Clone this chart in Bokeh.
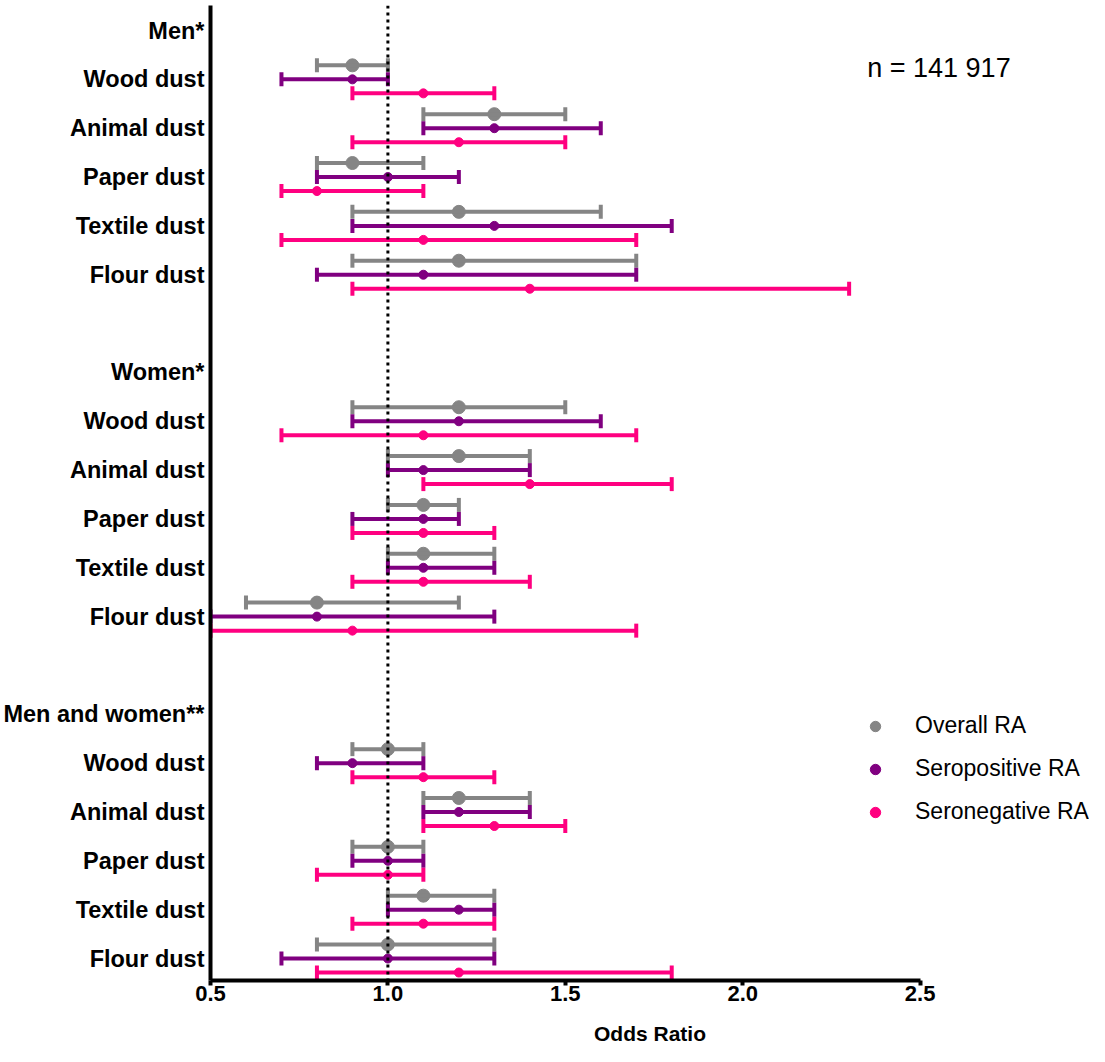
from bokeh.plotting import figure
from bokeh.models import (ColumnDataSource, Range1d, FixedTicker, Whisker, TeeHead,
                          Span, Label, Legend, LegendItem, NumeralTickFormatter)
from bokeh.embed import file_html
from bokeh.resources import INLINE

# ---------------- data ----------------
groups = ["Men*", "Women*", "Men and women**"]
dusts = ["Wood dust", "Animal dust", "Paper dust", "Textile dust", "Flour dust"]

overall_or = [0.9, 1.3, 0.9, 1.2, 1.2,  1.2, 1.2, 1.1, 1.1, 0.8,  1.0, 1.2, 1.0, 1.1, 1.0]
overall_lo = [0.8, 1.1, 0.8, 0.9, 0.9,  0.9, 1.0, 1.0, 1.0, 0.6,  0.9, 1.1, 0.9, 1.0, 0.8]
overall_hi = [1.0, 1.5, 1.1, 1.6, 1.7,  1.5, 1.4, 1.2, 1.3, 1.2,  1.1, 1.4, 1.1, 1.3, 1.3]

seropos_or = [0.9, 1.3, 1.0, 1.3, 1.1,  1.2, 1.1, 1.1, 1.1, 0.8,  0.9, 1.2, 1.0, 1.2, 1.0]
seropos_lo = [0.7, 1.1, 0.8, 0.9, 0.8,  0.9, 1.0, 0.9, 1.0, 0.5,  0.8, 1.1, 0.9, 1.0, 0.7]
seropos_hi = [1.0, 1.6, 1.2, 1.8, 1.7,  1.6, 1.4, 1.2, 1.3, 1.3,  1.1, 1.4, 1.1, 1.3, 1.3]

seroneg_or = [1.1, 1.2, 0.8, 1.1, 1.4,  1.1, 1.4, 1.1, 1.1, 0.9,  1.1, 1.3, 1.0, 1.1, 1.2]
seroneg_lo = [0.9, 0.9, 0.7, 0.7, 0.9,  0.7, 1.1, 0.9, 0.9, 0.5,  0.9, 1.1, 0.8, 0.9, 0.8]
seroneg_hi = [1.3, 1.5, 1.1, 1.7, 2.3,  1.7, 1.8, 1.3, 1.4, 1.7,  1.3, 1.5, 1.1, 1.3, 1.8]

x_ticks = [0.5, 1.0, 1.5, 2.0, 2.5]
n_text = "n = 141 917"
series_names = ["Overall RA", "Seropositive RA", "Seronegative RA"]

# ---------------- layout helpers ----------------
slot_per_group = len(dusts) + 2
group_slots = [g * slot_per_group for g in range(len(groups))]
row_slots = [g * slot_per_group + 1 + j for g in range(len(groups)) for j in range(len(dusts))]
row_offsets = [-0.287, 0.0, 0.287]

tick_pos = []
overrides = {}
for g, name in enumerate(groups):
    tick_pos.append(group_slots[g])
    overrides[group_slots[g]] = name
    for j, d in enumerate(dusts):
        s = group_slots[g] + 1 + j
        tick_pos.append(s)
        overrides[s] = d

W, H = 1089, 1052
left_border = 207
frame_w = W - left_border
px_per_unit = 356.0

p = figure(width=W, height=H, output_backend="svg", toolbar_location=None,
           x_range=Range1d(0.5, 0.5 + frame_w / px_per_unit),
           y_range=Range1d(19.45, -0.512),
           min_border_left=left_border, min_border_right=0,
           min_border_top=5, min_border_bottom=H - 980)
p.outline_line_color = None
p.xgrid.visible = False
p.ygrid.visible = False
p.background_fill_color = "white"

colors = ["#858585", "#800080", "#FF0080"]
marker_sizes = [13, 9, 9]
data = [(overall_or, overall_lo, overall_hi),
        (seropos_or, seropos_lo, seropos_hi),
        (seroneg_or, seroneg_lo, seroneg_hi)]

legend_items = []
for k, (orv, lo, hi) in enumerate(data):
    src = ColumnDataSource(dict(y=[s + row_offsets[k] for s in row_slots],
                                orv=orv, lo=lo, hi=hi))
    w = Whisker(base="y", lower="lo", upper="hi", dimension="width", source=src,
                line_color=colors[k], line_width=4, level="glyph",
                upper_head=TeeHead(size=14, line_color=colors[k], line_width=4),
                lower_head=TeeHead(size=14, line_color=colors[k], line_width=4))
    p.add_layout(w)
    r = p.scatter("orv", "y", source=src, size=marker_sizes[k], color=colors[k],
                  line_color=colors[k])
    legend_items.append(LegendItem(label=series_names[k], renderers=[r]))

p.add_layout(Span(location=1.0, dimension="height", line_color="black",
                  line_width=3, line_dash="3 4"))

# x axis
xa = p.xaxis[0]
xa.ticker = FixedTicker(ticks=x_ticks)
xa.formatter = NumeralTickFormatter(format="0.0")
xa.bounds = (x_ticks[0], x_ticks[-1])
xa.axis_line_width = 4
xa.axis_line_color = "black"
xa.major_tick_line_width = 4
xa.major_tick_line_color = "black"
xa.major_tick_out = 5
xa.major_tick_in = 0
xa.minor_tick_line_color = None
xa.major_label_standoff = 0
xa.major_label_text_font = "Liberation Sans Narrow, Arial Narrow, Liberation Sans"
xa.major_label_text_font_style = "bold"
xa.major_label_text_font_size = "22px"
xa.major_label_text_color = "black"
xa.axis_label = "Odds Ratio"
xa.axis_label_text_font = "Liberation Sans Narrow, Arial Narrow, Liberation Sans"
xa.axis_label_text_font_style = "bold"
xa.axis_label_text_font_size = "21px"
xa.axis_label_text_color = "black"
xa.axis_label_standoff = 18

# y axis
ya = p.yaxis[0]
ya.ticker = FixedTicker(ticks=tick_pos)
ya.major_label_overrides = overrides
ya.axis_line_width = 4
ya.axis_line_color = "black"
ya.major_tick_line_color = None
ya.minor_tick_line_color = None
ya.major_label_standoff = 0
ya.major_label_text_font = "Liberation Sans"
ya.major_label_text_font_style = "bold"
ya.major_label_text_font_size = "23.5px"
ya.major_label_text_color = "black"

legend = Legend(items=legend_items, location=(652, 155), padding=0, margin=0,
                border_line_color=None, background_fill_alpha=0,
                glyph_width=26, glyph_height=26, label_standoff=27, spacing=16,
                label_text_font="Liberation Sans", label_text_font_size="23px",
                label_text_color="black")
p.add_layout(legend)

p.add_layout(Label(x=0.5 + 659 / px_per_unit, y=0.76, text=n_text,
                   text_baseline="middle", text_font="Liberation Sans",
                   text_font_size="27px", text_color="black"))

open("out.html", "w").write(file_html(p, INLINE))
